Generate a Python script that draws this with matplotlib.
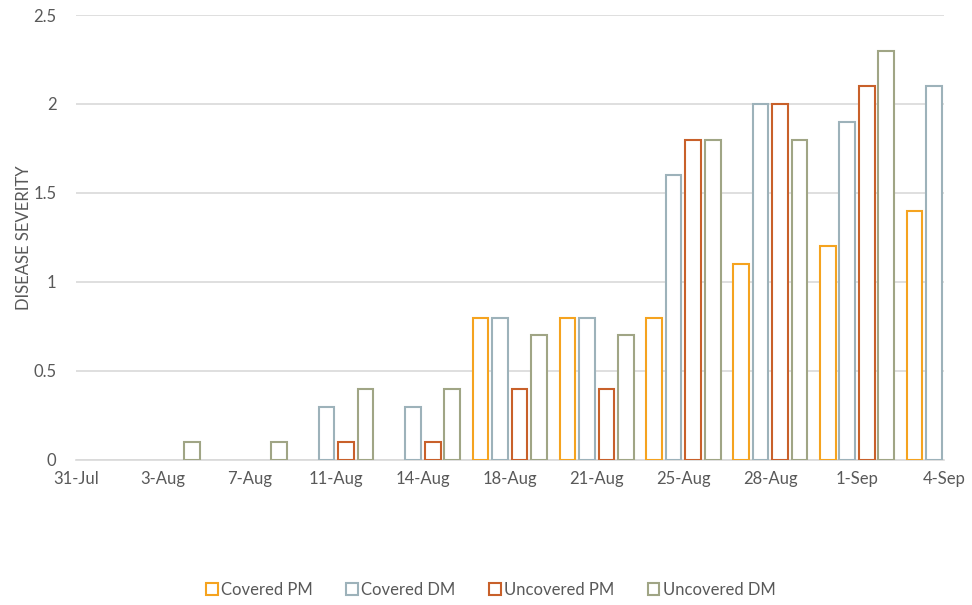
import numpy as np
import matplotlib
matplotlib.use("Agg")
import matplotlib.pyplot as plt
from matplotlib.patches import Patch

plt.rcParams['font.family'] = ['Lato', 'DejaVu Sans']

categories = ["31-Jul", "3-Aug", "7-Aug", "11-Aug", "14-Aug", "18-Aug",
              "21-Aug", "25-Aug", "28-Aug", "1-Sep", "4-Sep"]
covered_pm = [0, 0, 0, 0, 0, 0.8, 0.8, 0.8, 1.1, 1.2, 1.4]
covered_dm = [0, 0, 0, 0.3, 0.3, 0.8, 0.8, 1.6, 2.0, 1.9, 2.1]
uncovered_pm = [0, 0, 0, 0.1, 0.1, 0.4, 0.4, 1.8, 2.0, 2.1, np.nan]
uncovered_dm = [0, 0.1, 0.1, 0.4, 0.4, 0.7, 0.7, 1.8, 1.8, 2.3, np.nan]

series = [("Covered PM", covered_pm, "#F5A31F"),
          ("Covered DM", covered_dm, "#9DB2BA"),
          ("Uncovered PM", uncovered_pm, "#C8602A"),
          ("Uncovered DM", uncovered_dm, "#A0A585")]

fig = plt.figure(figsize=(9.72, 6.05), dpi=100)
ax = fig.add_axes([0.078, 0.2397, 0.893, 0.7355])

x = np.arange(len(categories))
step = 0.225
width = 0.18
offsets = (np.arange(4) - 1.5) * step
for (name, vals, col), off in zip(series, offsets):
    v = np.array(vals, dtype=float)
    mask = v > 0
    ax.bar(x[mask] + off, v[mask], width=width, facecolor="white",
           edgecolor=col, linewidth=1.5, zorder=3)

ax.set_xlim(0, len(categories) - 1)
ax.set_ylim(0, 2.5)
ax.set_yticks([0, 0.5, 1, 1.5, 2, 2.5])
ax.set_yticklabels(["0", "0.5", "1", "1.5", "2", "2.5"])
ax.set_xticks(x)
ax.set_xticklabels(categories)
ax.tick_params(axis='both', length=0, labelsize=12, colors="#595959")
ax.tick_params(axis='x', pad=8)
ax.tick_params(axis='y', pad=14)
ax.yaxis.grid(True, color="#D9D9D9", linewidth=1.2, zorder=0)
for s in ["top", "right", "left"]:
    ax.spines[s].set_visible(False)
ax.spines["bottom"].set_color("#D9D9D9")
ax.spines["bottom"].set_linewidth(1.2)
ax.set_ylabel("DISEASE SEVERITY", fontsize=12, color="#595959")
ax.yaxis.set_label_coords(-0.05, 0.5)

handles = [Patch(facecolor="white", edgecolor=col, linewidth=1.5, label=name)
           for name, _, col in series]
fig.legend(handles=handles, loc="center", bbox_to_anchor=(0.505, 0.025),
           ncol=4, frameon=False, fontsize=12, labelcolor="#595959",
           handlelength=0.7, handleheight=0.7, handletextpad=0.2,
           columnspacing=2.0)

fig.savefig("out.png", dpi=100)
